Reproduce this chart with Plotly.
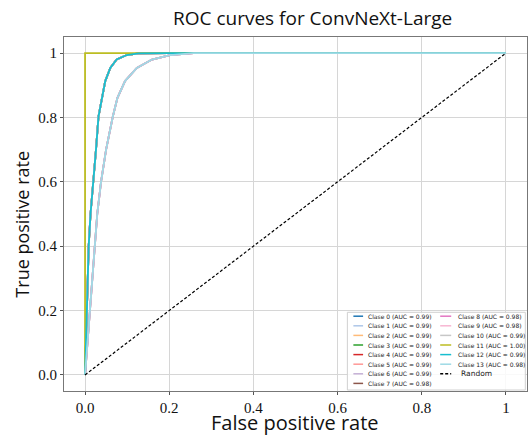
import plotly.graph_objects as go

# ---- data ----
class_names = [f"Clase {i}" for i in range(14)]
class_auc = [0.99, 0.99, 0.99, 0.99, 0.99, 0.99, 0.99, 0.98, 0.98, 0.98, 0.99, 1.00, 0.99, 0.98]
class_colors = ["#1f77b4", "#aec7e8", "#ffbb78", "#2ca02c", "#d62728", "#ff9896", "#c5b0d5",
                "#8c564b", "#e377c2", "#f7b6d2", "#c7c7c7", "#bcbd22", "#17becf", "#9edae5"]

# ROC curve shapes (one per AUC level seen in the picture)
fpr_099 = [0, 0.005, 0.0086, 0.013, 0.020, 0.026, 0.032, 0.040, 0.048, 0.060, 0.075, 0.099, 0.127, 0.2, 1.0]
tpr_099 = [0, 0.2, 0.4, 0.5, 0.6, 0.7, 0.803, 0.861, 0.913, 0.954, 0.980, 0.994, 0.999, 1.0, 1.0]
fpr_098 = [0, 0.011, 0.022, 0.029, 0.038, 0.050, 0.066, 0.077, 0.095, 0.123, 0.159, 0.202, 0.258, 1.0]
tpr_098 = [0, 0.2, 0.4, 0.5, 0.6, 0.7, 0.803, 0.861, 0.913, 0.954, 0.980, 0.994, 1.0, 1.0]
fpr_100 = [0, 0, 1.0]
tpr_100 = [0, 1.0, 1.0]
random_x = [0, 1]
random_y = [0, 1]

x_tickvals = [0.0, 0.2, 0.4, 0.6, 0.8, 1.0]
x_ticktext = ["0.0", "0.2", "0.4", "0.6", "0.8", "1"]
y_tickvals = [0.0, 0.2, 0.4, 0.6, 0.8, 1.0]
y_ticktext = ["0.0", "0.2", "0.4", "0.6", "0.8", "1"]

curves = {0.99: (fpr_099, tpr_099), 0.98: (fpr_098, tpr_098), 1.00: (fpr_100, tpr_100)}

W, H = 528, 437
L, R, T, B = 64.3, 1.3, 37, 46

fig = go.Figure()
for name, auc, col in zip(class_names, class_auc, class_colors):
    fx, fy = curves[auc]
    fig.add_trace(go.Scatter(x=fx, y=fy, mode="lines", name=f"{name} (AUC = {auc:.2f})",
                             line=dict(color=col, width=1.8), showlegend=False))
fig.add_trace(go.Scatter(x=random_x, y=random_y, mode="lines", name="Random",
                         line=dict(color="black", width=1.2, dash="3px,2px"), showlegend=False))

# ---- manual compact legend (matplotlib style) ----
pw, ph = W - L - R, H - T - B
def px(x):
    return (x - L) / pw
def py(y):
    return (H - B - y) / ph

shapes = [dict(type="rect", xref="paper", yref="paper",
               x0=px(347.3), x1=px(525), y0=py(390), y1=py(312.3),
               line=dict(color="#d0d0d0", width=1), fillcolor="rgba(255,255,255,0.85)", layer="above")]
annotations = []
labels = [f"{n} (AUC = {a:.2f})" for n, a in zip(class_names, class_auc)] + ["Random"]
colors = class_colors + ["black"]
row0, dy = 316.2, 9.6
for i, (lab, col) in enumerate(zip(labels, colors)):
    c, r = (0, i) if i < 8 else (1, i - 8)
    yy = row0 + dy * r
    lx0, lx1, tx = (353.3, 363.0, 365.5) if c == 0 else (440.0, 451.0, 455.5)
    dash = "solid" if lab != "Random" else "3px,2px"
    shapes.append(dict(type="line", xref="paper", yref="paper", x0=px(lx0), x1=px(lx1),
                       y0=py(yy), y1=py(yy), line=dict(color=col, width=1.5, dash=dash), layer="above"))
    annotations.append(dict(xref="paper", yref="paper", x=px(tx if lab != "Random" else 458.5), y=py(yy),
                            text=lab, showarrow=False, xanchor="left", yanchor="middle",
                            font=dict(family="DejaVu Sans", size=6 if lab != "Random" else 7.5, color="#222")))

# axis titles placed like the reference
annotations.append(dict(xref="paper", yref="paper", x=px(295), y=py(437), text="False positive rate",
                        showarrow=False, xanchor="center", yanchor="bottom", borderpad=0,
                        font=dict(family="Open Sans", size=20, color="#111")))
annotations.append(dict(xref="paper", yref="paper", x=px(22), y=py(224), text="True positive rate",
                        showarrow=False, xanchor="center", yanchor="middle", textangle=-90,
                        font=dict(family="Open Sans", size=18, color="#111")))

fig.update_layout(
    width=W, height=H,
    margin=dict(l=L, r=R, t=T, b=B),
    paper_bgcolor="white", plot_bgcolor="white",
    title=dict(text="ROC curves for ConvNeXt-Large", x=173 / W, xanchor="left",
               y=1 - 18.7 / H, yanchor="middle", yref="container",
               font=dict(family="Open Sans", size=19, color="#111")),
    shapes=shapes, annotations=annotations,
)
axis_common = dict(showgrid=True, gridcolor="#d6d6d6", gridwidth=1, zeroline=False,
                   showline=True, linecolor="#777", linewidth=1, mirror=True,
                   ticks="outside", ticklen=3, tickcolor="#555", automargin=False,
                   tickfont=dict(family="Liberation Serif", size=15, color="#111"))
fig.update_xaxes(range=[-0.05, 1.05], tickvals=x_tickvals, ticktext=x_ticktext, **axis_common)
fig.update_yaxes(range=[-0.05, 1.05], tickvals=y_tickvals, ticktext=y_ticktext, **axis_common)

fig.write_html("out.html")
